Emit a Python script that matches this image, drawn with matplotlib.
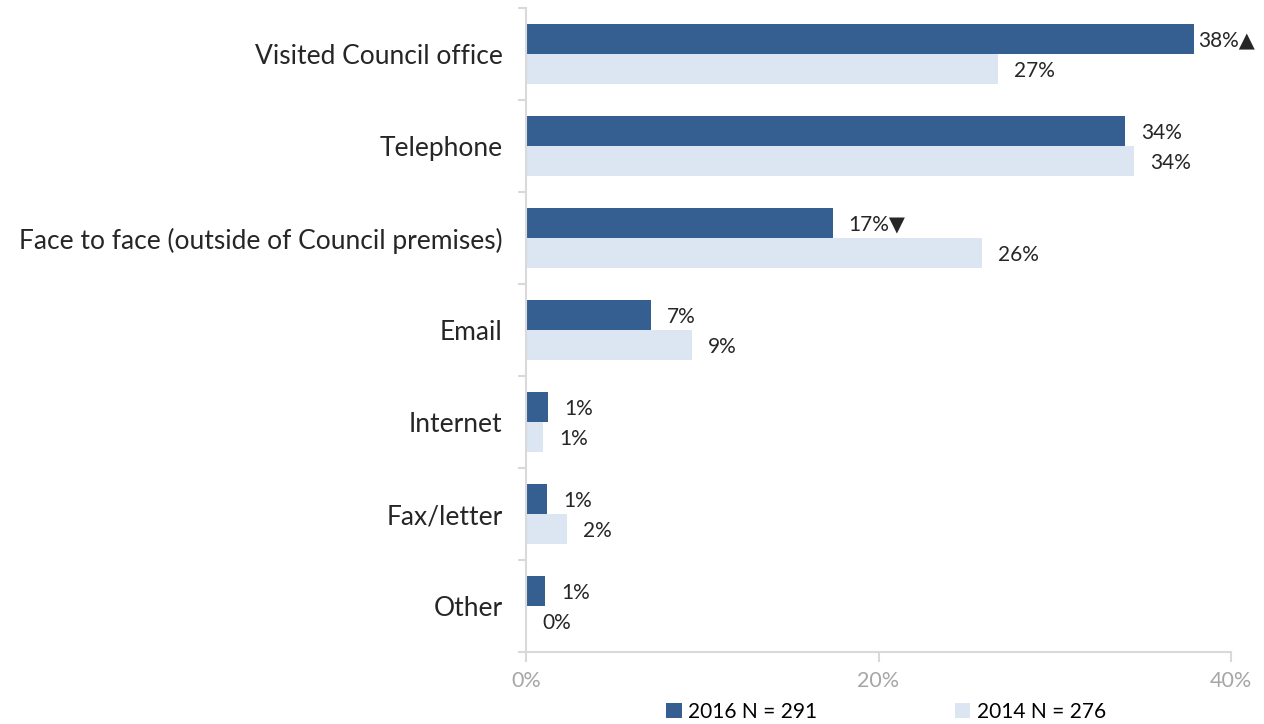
import matplotlib.pyplot as plt
import numpy as np

plt.rcParams['font.family'] = ['Lato', 'DejaVu Sans']

categories = ['Visited Council office', 'Telephone',
              'Face to face (outside of Council premises)', 'Email',
              'Internet', 'Fax/letter', 'Other']
values_2016 = [37.9, 34.0, 17.4, 7.1, 1.25, 1.2, 1.1]
values_2014 = [26.8, 34.5, 25.9, 9.4, 0.96, 2.3, 0.0]
# significance markers against 2014
marks_2016 = ['\u25b2', '', '\u25bc', '', '', '', '']
series_labels = ['2016 N = 291', '2014 N = 276']

dark = '#365f91'
light = '#dce6f2'
axis_grey = '#d9d9d9'

fig = plt.figure(figsize=(12.64, 7.24), dpi=100)
ax = fig.add_axes([526 / 1264, 1 - 652 / 724, 705 / 1264, 644 / 724])

y = np.arange(len(categories))
h = 0.33
b1 = ax.barh(y - h / 2, values_2016, height=h, color=dark, label=series_labels[0])
b2 = ax.barh(y + h / 2, values_2014, height=h, color=light, label=series_labels[1])

ax.set_xlim(0, 40)
ax.set_ylim(len(categories) - 0.5, -0.5)

# value labels just past the bar ends
for i, (v, m) in enumerate(zip(values_2016, marks_2016)):
    off = 4 if v > 36 else 16
    ax.annotate(f'{v:.0f}%{m}', (v, y[i] - h / 2), xytext=(off, -2),
                textcoords='offset pixels', va='center', ha='left',
                fontsize=15, color='#262626')
for i, v in enumerate(values_2014):
    ax.annotate(f'{v:.0f}%', (v, y[i] + h / 2), xytext=(16, -2),
                textcoords='offset pixels', va='center', ha='left',
                fontsize=15, color='#262626')

ax.set_yticks(y)
ax.set_yticklabels(categories, fontsize=19, color='#262626')
ax.set_yticks(np.arange(len(categories) + 1) - 0.5, minor=True)
ax.tick_params(axis='y', which='major', length=0, pad=17)
ax.tick_params(axis='y', which='minor', length=6, color=axis_grey, width=1.5)

ax.set_xticks([0, 20, 40])
ax.set_xticklabels(['0%', '20%', '40%'])
ax.tick_params(axis='x', length=7, color=axis_grey, width=1.5,
               labelsize=15.5, labelcolor='#a6a6a6', pad=7)

for side in ['top', 'right']:
    ax.spines[side].set_visible(False)
for side in ['left', 'bottom']:
    ax.spines[side].set_color(axis_grey)
    ax.spines[side].set_linewidth(1.5)

fig.legend(handles=[b1, b2], loc='center', bbox_to_anchor=(886 / 1264, 1 - 712 / 724),
           ncol=2, frameon=False, fontsize=15, handlelength=0.75, handleheight=0.75,
           handletextpad=0.3, columnspacing=6.6)

fig.savefig('out.png', dpi=100)
